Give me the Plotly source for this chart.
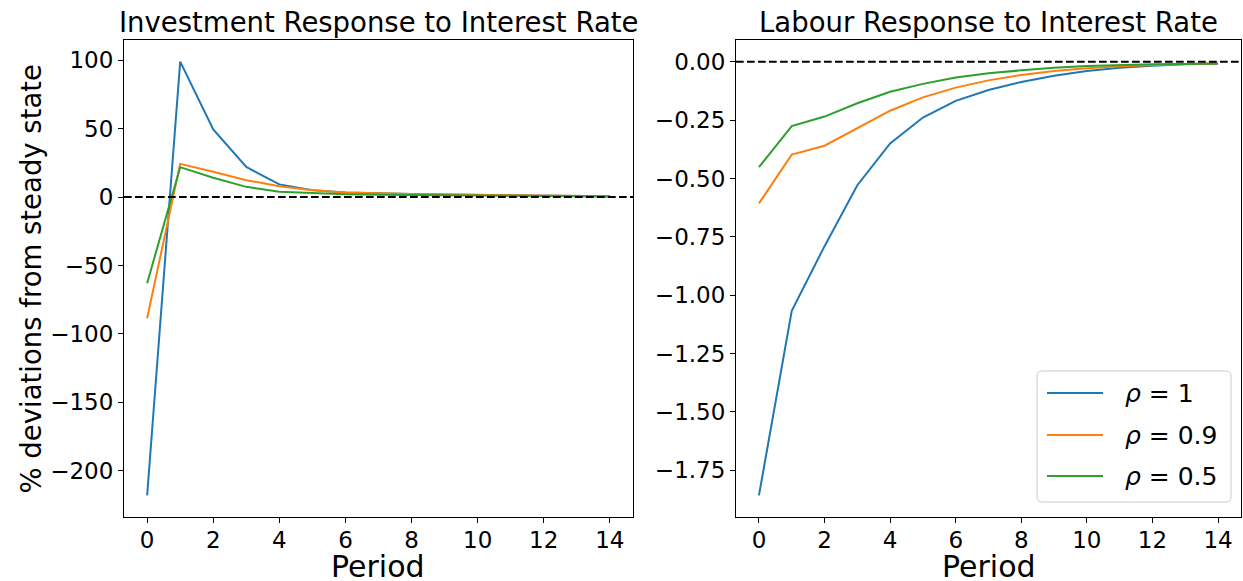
import plotly.graph_objects as go

# Impulse responses to an interest-rate shock, by persistence rho
periods = list(range(15))
rho_labels = ["<i>ρ</i> = 1", "<i>ρ</i> = 0.9", "<i>ρ</i> = 0.5"]
colors = ["#1f77b4", "#ff7f0e", "#2ca02c"]

investment_rho_1 = [-218.0, 99.0, 49.5, 22.0, 9.3, 5.1, 3.4, 2.7, 2.2, 1.9, 1.6, 1.3, 1.0, 0.8, 0.6]
investment_rho_09 = [-88.5, 24.3, 18.5, 12.4, 8.0, 5.1, 3.4, 2.7, 2.2, 1.9, 1.6, 1.3, 1.0, 0.8, 0.6]
investment_rho_05 = [-63.0, 21.9, 14.1, 7.5, 3.9, 2.7, 2.0, 1.7, 1.5, 1.3, 1.1, 0.9, 0.7, 0.6, 0.5]

labour_rho_1 = [-1.857, -1.067, -0.79, -0.529, -0.35, -0.239, -0.168, -0.121, -0.087,
                -0.06, -0.04, -0.026, -0.017, -0.011, -0.009]
labour_rho_09 = [-0.607, -0.398, -0.36, -0.285, -0.21, -0.153, -0.111, -0.08, -0.057,
                 -0.04, -0.028, -0.02, -0.014, -0.01, -0.008]
labour_rho_05 = [-0.452, -0.276, -0.235, -0.178, -0.129, -0.095, -0.068, -0.05, -0.037,
                 -0.026, -0.019, -0.014, -0.011, -0.01, -0.008]

investment = [investment_rho_1, investment_rho_09, investment_rho_05]
labour = [labour_rho_1, labour_rho_09, labour_rho_05]

W, H = 1243, 581
FONT = "DejaVu Sans"


def px_x(p):
    return p / W


def px_y(p):
    return 1 - p / H


fig = go.Figure()

for i in range(3):
    fig.add_trace(go.Scatter(
        x=periods, y=investment[i], mode="lines", name=rho_labels[i],
        line=dict(color=colors[i], width=2), xaxis="x", yaxis="y", showlegend=False))
for i in range(3):
    fig.add_trace(go.Scatter(
        x=periods, y=labour[i], mode="lines", name=rho_labels[i],
        line=dict(color=colors[i], width=2), xaxis="x2", yaxis="y2", showlegend=False))


def pad_range(vals, frac=0.05):
    lo, hi = min(vals), max(vals)
    span = hi - lo
    return [lo - frac * span, hi + frac * span]


inv_all = [v for s in investment for v in s] + [0]
lab_all = [v for s in labour for v in s] + [0]

axis_common = dict(
    showline=True, linecolor="black", linewidth=1.1, mirror=True,
    ticks="outside", ticklen=5, tickwidth=1.1, tickcolor="black",
    showgrid=False, zeroline=False,
    tickfont=dict(family=FONT, size=23, color="black"),
)

fig.update_layout(
    width=W, height=H,
    margin=dict(l=0, r=0, t=0, b=0),
    paper_bgcolor="white", plot_bgcolor="white",
    font=dict(family=FONT, color="black"),
    showlegend=False,
    xaxis=dict(domain=[px_x(124), px_x(633)], range=pad_range(periods),
               tickvals=list(range(0, 15, 2)), anchor="y", ticklabelstandoff=-3,
               **axis_common),
    yaxis=dict(domain=[px_y(517), px_y(40)], range=pad_range(inv_all),
               dtick=50, anchor="x", **axis_common),
    xaxis2=dict(domain=[px_x(736), px_x(1241)], range=pad_range(periods),
                tickvals=list(range(0, 15, 2)), anchor="y2", ticklabelstandoff=-3,
                **axis_common),
    yaxis2=dict(domain=[px_y(517), px_y(40)], range=pad_range(lab_all),
                dtick=0.25, tickformat=".2f", anchor="x2", **axis_common),
)

# Zero reference lines
for xr, yr in (("x domain", "y"), ("x2 domain", "y2")):
    fig.add_shape(type="line", xref=xr, yref=yr, x0=0, x1=1, y0=0, y1=0,
                  line=dict(color="black", width=2, dash="7.7px,3.3px"))

# Legend box (rounded frame) in the labour panel
bx0, bx1, by0, by1 = px_x(1037), px_x(1231), px_y(502), px_y(371)
rx, ry = 5 / W, 5 / H
legend_path = (
    f"M {bx0 + rx},{by1} L {bx1 - rx},{by1} Q {bx1},{by1} {bx1},{by1 - ry} "
    f"L {bx1},{by0 + ry} Q {bx1},{by0} {bx1 - rx},{by0} "
    f"L {bx0 + rx},{by0} Q {bx0},{by0} {bx0},{by0 + ry} "
    f"L {bx0},{by1 - ry} Q {bx0},{by1} {bx0 + rx},{by1} Z"
)
fig.add_shape(type="path", path=legend_path, xref="paper", yref="paper",
              fillcolor="rgba(255,255,255,0.8)", line=dict(color="#cccccc", width=1))
legend_rows = [393, 435, 476]
for i in range(3):
    yy = px_y(legend_rows[i])
    fig.add_shape(type="line", xref="paper", yref="paper",
                  x0=px_x(1047), x1=px_x(1103), y0=yy, y1=yy,
                  line=dict(color=colors[i], width=2))
    fig.add_annotation(text=rho_labels[i], x=px_x(1123), y=yy, xref="paper", yref="paper",
                       xanchor="left", yanchor="middle", showarrow=False,
                       font=dict(family=FONT, size=25, color="black"))

# Panel titles and axis labels
annotations = [
    dict(text="Investment Response to Interest Rate", x=px_x(378.5), y=px_y(22),
         size=27.5),
    dict(text="Labour Response to Interest Rate", x=px_x(988.5), y=px_y(22),
         size=27.5),
    dict(text="Period", x=px_x(378.5), y=px_y(566), size=30),
    dict(text="Period", x=px_x(988.5), y=px_y(566), size=30),
]
for a in annotations:
    fig.add_annotation(text=a["text"], x=a["x"], y=a["y"], xref="paper", yref="paper",
                       xanchor="center", yanchor="middle", showarrow=False,
                       font=dict(family=FONT, size=a["size"], color="black"))
fig.add_annotation(text="% deviations from steady state", x=px_x(30), y=px_y(278.5),
                   xref="paper", yref="paper", xanchor="center", yanchor="middle",
                   textangle=-90, showarrow=False,
                   font=dict(family=FONT, size=27.5, color="black"))

fig.write_html("out.html")
